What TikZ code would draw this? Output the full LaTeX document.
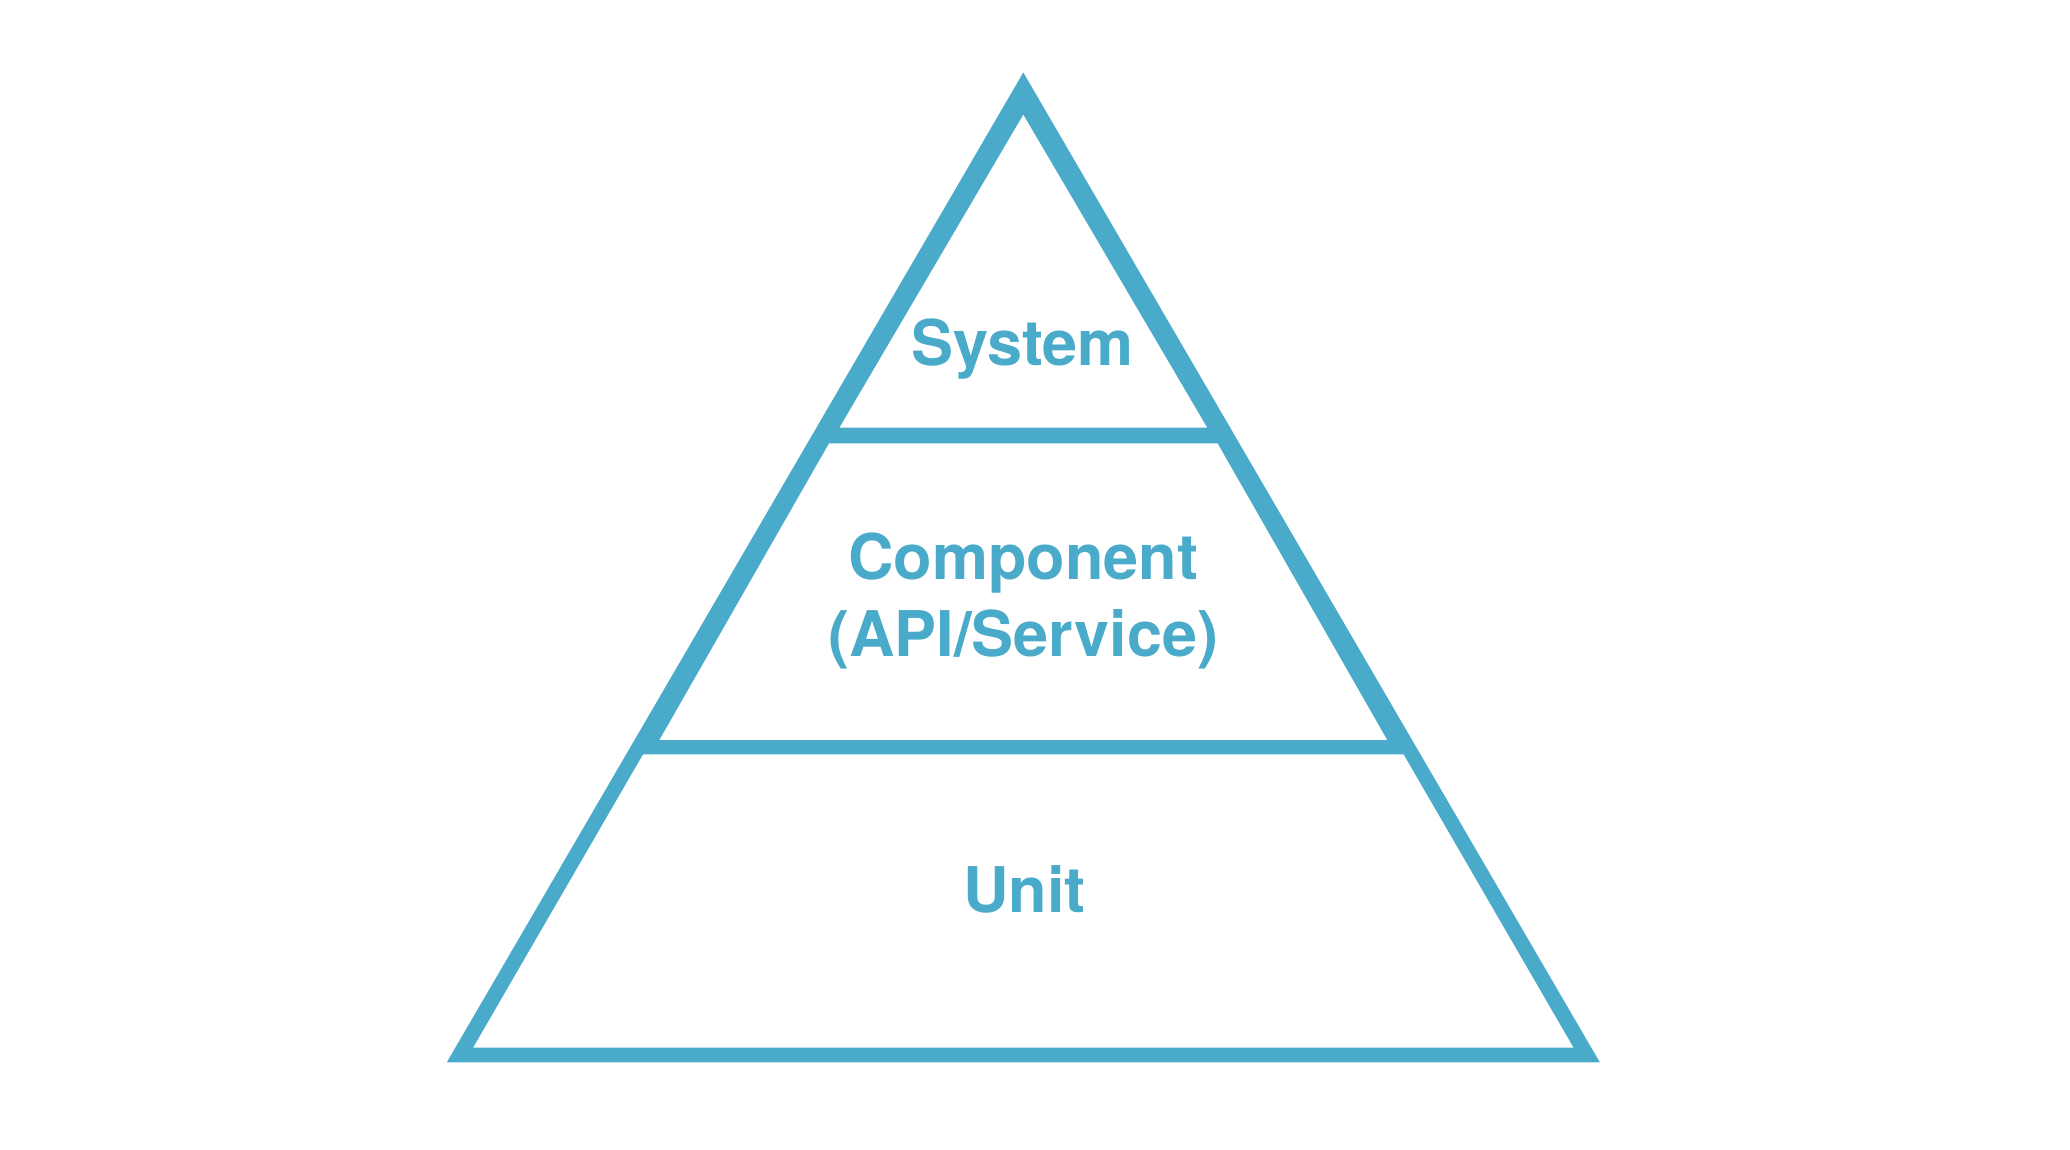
\documentclass[tikz,border=0pt]{standalone}
\usepackage{fontspec}
\setmainfont{TeX Gyre Heros}
\definecolor{pyr}{RGB}{74,170,201}
\begin{document}
\begin{tikzpicture}[x=0.5pt,y=-0.5pt,
  label/.style={inner sep=0pt,anchor=base,text=pyr,font=\bfseries\fontsize{31.5}{38}\selectfont}]
\useasboundingbox (0,0) rectangle (2070,1150);
% pyramid outline: outer triangle minus three white layers
\fill[pyr,even odd rule]
  (1023.3,72.5) -- (1599.8,1062.3) -- (446.8,1062.3) -- cycle
  (1023.3,114.5) -- (1207.3,427.7) -- (839.3,427.7) -- cycle
  (829.0,443.3) -- (1217.6,443.3) -- (1387.3,740) -- (659.3,740) -- cycle
  (643.0,754.3) -- (1403.6,754.3) -- (1573.6,1047.7) -- (473.0,1047.7) -- cycle;
\node[label] (sys) at (1022.5,365) {System};
\node[label] (comp) at (1023.3,579.3) {Component};
\node[label] (api) at (1023.3,656.7) {(API/Service)};
\node[label] (unit) at (1024.5,912.5) {Unit};
\end{tikzpicture}
\end{document}
